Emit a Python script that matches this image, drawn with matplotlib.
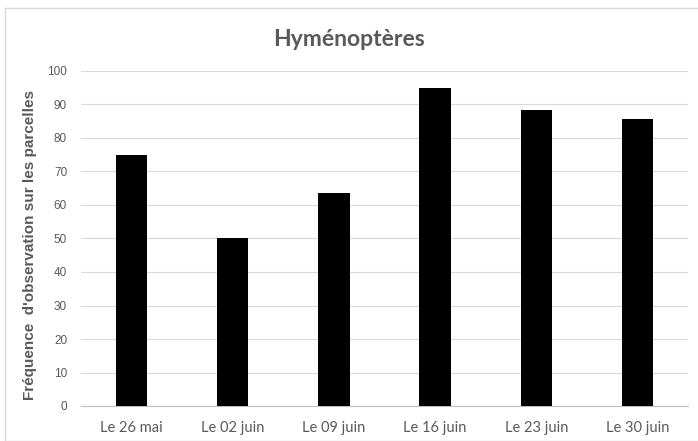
import matplotlib
matplotlib.use("Agg")
import matplotlib.pyplot as plt
from matplotlib.patches import Rectangle

dates = ["Le 26 mai", "Le 02 juin", "Le 09 juin", "Le 16 juin", "Le 23 juin", "Le 30 juin"]
freq = [75, 50, 63.6, 95, 88.5, 85.7]
yticks = list(range(0, 101, 10))

gray = "#595959"

fig = plt.figure(figsize=(6.98, 4.41), dpi=100)
ax = fig.add_axes([81/698, 1 - 406/441, (688-81)/698, (406-71)/441])

# cadre du graphique
fig.patches.append(Rectangle((5/698, 0), 1.0, 1 - 8/441, transform=fig.transFigure,
                             fill=False, edgecolor="#d9d9d9", linewidth=1))

x = range(len(dates))
ax.bar(x, freq, width=0.31, color="black", zorder=3)
ax.set_xlim(-0.5, len(dates) - 0.5)
ax.set_ylim(0, 100)
ax.set_yticks(yticks)
ax.set_xticks(list(x))
ax.set_xticklabels(dates, family="Lato", fontsize=10.5, color=gray)
ax.set_yticklabels([str(v) for v in yticks], family="Liberation Sans", fontsize=8.5, color=gray)
ax.grid(axis="y", color="#d9d9d9", linewidth=0.8, zorder=0)
for s in ["top", "right", "left"]:
    ax.spines[s].set_visible(False)
ax.spines["bottom"].set_color("#bfbfbf")
ax.tick_params(length=0)
ax.tick_params(axis="y", pad=10)
ax.tick_params(axis="x", pad=11)

ax.set_ylabel("Fréquence  d'observation sur les parcelles", family="Liberation Sans",
              fontweight="bold", fontsize=11, color=gray)
ax.yaxis.set_label_coords(-0.072, 0.48)
fig.text(0.5, 1 - 40/441, "Hyménoptères", ha="center", va="center",
         family="Lato", fontweight="bold", fontsize=16.5, color=gray)

fig.savefig("out.png", dpi=100)
